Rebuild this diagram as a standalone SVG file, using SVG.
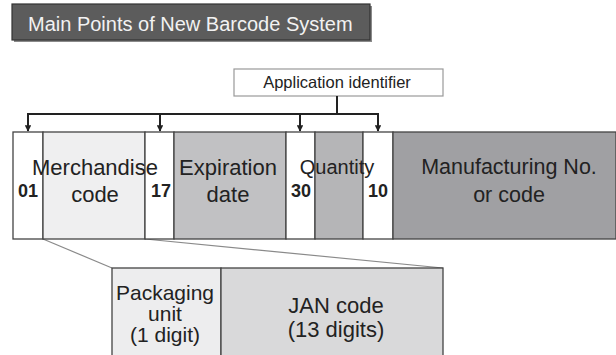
<svg xmlns="http://www.w3.org/2000/svg" width="616" height="355" viewBox="0 0 616 355">
<defs>
<style>
.t{font-family:"Liberation Sans",Arial,sans-serif;fill:#222;text-anchor:middle}
.b{font-family:"Liberation Sans",Arial,sans-serif;font-weight:bold;fill:#222;font-size:18px;text-anchor:middle}
.cell{stroke:#444;stroke-width:1.3}
.con{stroke:#222;stroke-width:2;fill:none}
.zoom{stroke:#8a8a8a;stroke-width:1.2;fill:none}
</style>
<marker id="ah" viewBox="0 0 10 10" refX="9" refY="5" markerWidth="3.2" markerHeight="3.2" orient="auto" markerUnits="strokeWidth">
<path d="M0,0 L10,5 L0,10 z" fill="#222"/>
</marker>
</defs>
<rect width="616" height="355" fill="#fff"/>
<g id="title">
<rect x="14" y="6" width="358" height="36" fill="#8a8a8a"/>
<rect x="12" y="4" width="358" height="36" fill="#5c5c5c" stroke="#333" stroke-width="1.2"/>
<text x="28" y="31" font-family="Liberation Sans,Arial,sans-serif" font-size="20" fill="#f2f2f2">Main Points of New Barcode System</text>
</g>
<g id="app-id">
<rect x="234" y="69" width="209" height="27" fill="#fff" stroke="#999" stroke-width="1.2"/>
<text class="t" x="337" y="88" font-size="16.5">Application identifier</text>
</g>
<g id="connectors">
<path class="con" d="M337,96 V114 M27,114 H379"/>
<line class="con" x1="28" y1="114" x2="28" y2="131" marker-end="url(#ah)"/>
<line class="con" x1="160" y1="114" x2="160" y2="131" marker-end="url(#ah)"/>
<line class="con" x1="300" y1="114" x2="300" y2="131" marker-end="url(#ah)"/>
<line class="con" x1="378" y1="114" x2="378" y2="131" marker-end="url(#ah)"/>
<line class="zoom" x1="43" y1="239" x2="112" y2="268"/>
<line class="zoom" x1="145" y1="239" x2="443" y2="268"/>
</g>
<g id="ai01"><rect class="cell" x="13" y="132" width="30" height="107" fill="#fff"/><text class="b" x="28" y="197">01</text></g>
<g id="merch"><rect class="cell" x="43" y="132" width="102" height="107" fill="#efeff0"/></g>
<g id="ai17"><rect class="cell" x="145" y="132" width="29" height="107" fill="#fff"/><text class="b" x="161" y="197">17</text></g>
<g id="expiry"><rect class="cell" x="174" y="132" width="112" height="107" fill="#c1c1c3"/><text class="t" x="228" y="175" font-size="22">Expiration</text><text class="t" x="228" y="202" font-size="22">date</text></g>
<g id="ai30"><rect class="cell" x="286" y="132" width="29" height="107" fill="#fff"/><text class="b" x="301" y="197">30</text></g>
<g id="qty"><rect class="cell" x="315" y="132" width="48" height="107" fill="#b5b5b7"/></g>
<g id="ai10"><rect class="cell" x="363" y="132" width="30" height="107" fill="#fff"/><text class="b" x="378" y="197">10</text></g>
<g id="mfg"><rect class="cell" x="393" y="132" width="223" height="107" fill="#a0a0a3"/><text class="t" x="509" y="174" font-size="21.5">Manufacturing No.</text><text class="t" x="509" y="202" font-size="21.5">or code</text></g>
<g id="labels">
<text class="t" x="95" y="175" font-size="22">Merchandise</text>
<text class="t" x="95" y="202" font-size="22">code</text>
<text class="t" x="337" y="174" font-size="20">Quantity</text>
</g>
<g id="pack"><rect class="cell" x="112" y="268" width="109" height="95" fill="#ededee"/>
<text class="t" x="165" y="300" font-size="21">Packaging</text>
<text class="t" x="165" y="321" font-size="21">unit</text>
<text class="t" x="165" y="342" font-size="21">(1 digit)</text></g>
<g id="jan"><rect class="cell" x="221" y="268" width="222" height="95" fill="#d9d9da"/>
<text class="t" x="336" y="313" font-size="22">JAN code</text>
<text class="t" x="336" y="337" font-size="22">(13 digits)</text></g>
</svg>
